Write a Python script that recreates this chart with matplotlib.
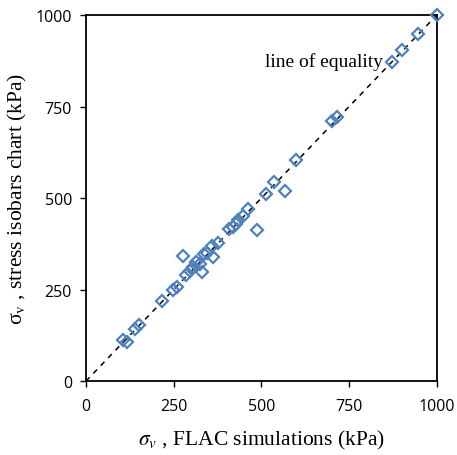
import numpy as np
import matplotlib.pyplot as plt

plt.rcParams['mathtext.fontset'] = 'stix'

# FLAC simulations (x) vs stress isobars chart (y), kPa
flac = [105, 118, 140, 150, 217, 248, 260, 278, 285, 296, 305, 313, 325, 330,
        336, 345, 358, 361, 375, 407, 419, 427, 433, 448, 462, 487, 513, 535,
        567, 598, 700, 715, 872, 900, 945, 1000]
chart = [113, 106, 143, 152, 219, 250, 257, 342, 290, 300, 311, 325, 320, 298,
         347, 350, 369, 339, 378, 415, 421, 429, 440, 451, 470, 413, 512, 543,
         520, 603, 710, 720, 872, 903, 947, 1000]
ticks = [0, 250, 500, 750, 1000]

fig = plt.figure(figsize=(4.57, 4.56), dpi=100)
ax = fig.add_axes([0.188, 0.162, 0.768, 0.803])

ax.plot([0, 1000], [0, 1000], color='black', ls=(0, (3.5, 3.5)), lw=1.1, zorder=1)
ax.plot(flac, chart, ls='none', marker='D', ms=6, mfc='none',
        mec='#4F81BD', mew=1.6, zorder=3, clip_on=False)

ax.text(510, 874, 'line of equality', family='Liberation Serif', fontsize=14,
        va='center', ha='left')

ax.set_xlim(0, 1000)
ax.set_ylim(0, 1000)
ax.set_xticks(ticks)
ax.set_yticks(ticks)
for lab in ax.get_xticklabels() + ax.get_yticklabels():
    lab.set_family('Open Sans')
    lab.set_fontsize(11.5)
ax.tick_params(direction='out', length=4, width=1)
ax.tick_params(axis='x', pad=8)
ax.tick_params(axis='y', pad=6)
for s in ax.spines.values():
    s.set_linewidth(1.3)

ax.set_xlabel(r'$\sigma_v$ , FLAC simulations (kPa)', family='Liberation Serif',
              fontsize=15.5, labelpad=10)
ax.set_ylabel(r'σ$_\mathrm{v}$ , stress isobars chart (kPa)', family='Liberation Serif',
              fontsize=15.5, labelpad=5)

fig.savefig('out.png', dpi=100)
